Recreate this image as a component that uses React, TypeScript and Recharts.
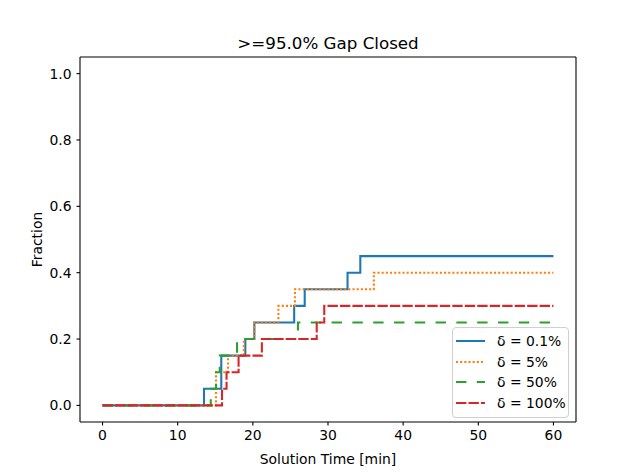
import React from "react";
import {
  LineChart,
  Line,
  XAxis,
  YAxis,
  Legend,
  ReferenceLine,
} from "recharts";

// step times [min] and solved fraction per delta
const t01 = [0, 13.5, 15.8, 19.0, 20.2, 25.5, 26.9, 32.6, 34.3, 60];
const f01 = [0, 0.05, 0.15, 0.2, 0.25, 0.3, 0.35, 0.4, 0.45, 0.45];

const t5 = [0, 15.1, 16.7, 18.8, 20.2, 23.4, 25.6, 36.1, 60];
const f5 = [0, 0.1, 0.15, 0.2, 0.25, 0.3, 0.35, 0.4, 0.4];

const t50 = [0, 14.4, 15.1, 15.6, 17.9, 26.0, 60];
const f50 = [0, 0.05, 0.1, 0.15, 0.2, 0.25, 0.25];

const t100 = [0, 15.9, 16.5, 18.1, 21.2, 28.5, 29.5, 60];
const f100 = [0, 0.05, 0.1, 0.15, 0.2, 0.25, 0.3, 0.3];

const xTicks = [0, 10, 20, 30, 40, 50, 60];
const yTicks = [0, 0.2, 0.4, 0.6, 0.8, 1.0];
const xDomain = [-3, 63];
const yDomain = [-0.05, 1.05];

const toRows = (t: number[], f: number[]) => t.map((v, i) => ({ t: v, f: f[i] }));

const series = [
  { name: "δ = 0.1%", data: toRows(t01, f01), color: "#1f77b4", dash: undefined },
  { name: "δ = 5%", data: toRows(t5, f5), color: "#ff7f0e", dash: "2.08 2.08" },
  { name: "δ = 50%", data: toRows(t50, f50), color: "#2ca02c", dash: "10.4 10.4" },
  { name: "δ = 100%", data: toRows(t100, f100), color: "#d62728", dash: "10.4 2.08" },
];

const lw = 2.08;
const font = "'DejaVu Sans', sans-serif";
const tickStyle = { fontSize: 13.9, fill: "#000", fontFamily: font };

const LegendBox = () => (
  <div
    style={{
      width: 115,
      height: 86,
      border: "1px solid #d0d0d0",
      borderRadius: 4,
      background: "rgba(255,255,255,0.8)",
      paddingTop: 3,
      boxSizing: "content-box",
      fontFamily: font,
      fontSize: 13.9,
    }}
  >
    {series.map((s) => (
      <div
        key={s.name}
        style={{ height: 20.5, display: "flex", alignItems: "center", paddingLeft: 3 }}
      >
        <svg width={29} height={10} style={{ marginRight: 12 }}>
          <line
            x1={0}
            y1={5}
            x2={29}
            y2={5}
            stroke={s.color}
            strokeWidth={lw}
            strokeDasharray={s.dash}
          />
        </svg>
        <span>{s.name}</span>
      </div>
    ))}
  </div>
);

export default function App() {
  return (
    <div style={{ position: "fixed", left: 0, top: 0, width: 640, height: 474, background: "#fff" }}>
      <div
        style={{
          position: "absolute",
          left: 80,
          width: 496,
          top: 35,
          textAlign: "center",
          fontFamily: font,
          fontSize: 16.7,
          lineHeight: 1,
          zIndex: 2,
        }}
      >
        &gt;=95.0% Gap Closed
      </div>
      <LineChart width={640} height={474} margin={{ top: 57, right: 64, bottom: 0, left: 0 }}>
        <XAxis
          dataKey="t"
          type="number"
          domain={xDomain}
          ticks={xTicks}
          allowDataOverflow
          height={52}
          tick={tickStyle}
          tickSize={3.5}
          tickMargin={5}
          axisLine={{ stroke: "#000", strokeWidth: 1.1 }}
          tickLine={{ stroke: "#000", strokeWidth: 1.1 }}
          label={{
            value: "Solution Time [min]",
            position: "insideBottom",
            offset: 10,
            style: { fontSize: 13.9, fill: "#000", fontFamily: font },
          }}
        />
        <YAxis
          type="number"
          domain={yDomain}
          ticks={yTicks}
          allowDataOverflow
          width={80}
          tick={tickStyle}
          tickSize={3.5}
          tickMargin={5}
          tickFormatter={(v: number) => v.toFixed(1)}
          axisLine={{ stroke: "#000", strokeWidth: 1.1 }}
          tickLine={{ stroke: "#000", strokeWidth: 1.1 }}
          label={{
            value: "Fraction",
            angle: -90,
            position: "insideLeft",
            offset: 37,
            style: { fontSize: 13.9, fill: "#000", fontFamily: font, textAnchor: "middle" },
          }}
        />
        {/* top and right spines */}
        <ReferenceLine y={yDomain[1]} stroke="#000" strokeWidth={1.1} ifOverflow="visible" />
        <ReferenceLine x={xDomain[1]} stroke="#000" strokeWidth={1.1} ifOverflow="visible" />
        {series.map((s) => (
          <Line
            key={s.name}
            data={s.data}
            dataKey="f"
            name={s.name}
            type="stepAfter"
            stroke={s.color}
            strokeWidth={lw}
            strokeDasharray={s.dash}
            dot={false}
            activeDot={false}
            isAnimationActive={false}
          />
        ))}
        <Legend
          layout="vertical"
          align="center"
          verticalAlign="middle"
          content={() => <LegendBox />}
          wrapperStyle={{ left: 452, top: 327, width: "auto", right: "auto", bottom: "auto" }}
        />
      </LineChart>
    </div>
  );
}
